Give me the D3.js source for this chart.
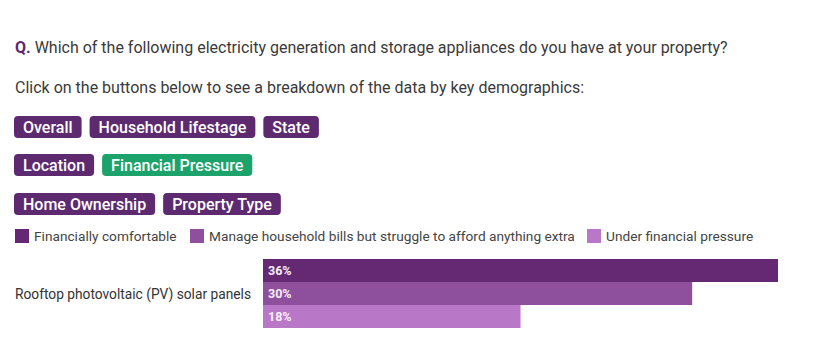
<!DOCTYPE html>
<html><head><meta charset="utf-8">
<script src="https://cdn.jsdelivr.net/npm/d3@7"></script>
<style>
html,body{margin:0;padding:0;background:#fff;}
svg{display:block;font-family:Roboto,"Open Sans",sans-serif;}
</style></head>
<body>
<svg id="chart" width="834" height="347"></svg>
<script>
const questionPrefix = "Q.";
const questionText = " Which of the following electricity generation and storage appliances do you have at your property?";
const instruction = "Click on the buttons below to see a breakdown of the data by key demographics:";
const buttonRows = [
  ["Overall", "Household Lifestage", "State"],
  ["Location", "Financial Pressure"],
  ["Home Ownership", "Property Type"]
];
const activeButton = "Financial Pressure";
const categories = ["Rooftop photovoltaic (PV) solar panels"];
const seriesNames = ["Financially comfortable", "Manage household bills but struggle to afford anything extra", "Under financial pressure"];
const seriesValues = [[36], [30], [18]];
const seriesColors = ["#652973", "#8e509d", "#b977c7"];

const svg = d3.select("#chart");

// Question
const q = svg.append("text").attr("x", 15).attr("y", 53)
  .attr("font-size", 16).attr("fill", "#3a3a3a");
q.append("tspan").attr("font-weight", 700).attr("fill", "#5b2a6e").text(questionPrefix);
q.append("tspan").text(questionText);

svg.append("text").attr("x", 15).attr("y", 93)
  .attr("font-size", 16).attr("fill", "#3a3a3a").text(instruction);

// Buttons
const rowY = [116, 154, 193];
buttonRows.forEach((row, ri) => {
  let x = 14;
  row.forEach(label => {
    const g = svg.append("g").attr("transform", `translate(${x},${rowY[ri]})`);
    const rect = g.append("rect").attr("height", 22).attr("rx", 4)
      .attr("fill", label === activeButton ? "#1ba36b" : "#5d2a70");
    const t = g.append("text").attr("x", 9).attr("y", 16.5)
      .attr("font-size", 16).attr("font-weight", 500).attr("fill", "#fff").text(label);
    const w = t.node().getComputedTextLength() + 18;
    rect.attr("width", w);
    x += w + 8;
  });
});

// Legend
const legendX = [15, 190, 587];
const lg = svg.append("g").attr("transform", "translate(0,229)");
seriesNames.forEach((n, i) => {
  lg.append("rect").attr("x", legendX[i]).attr("y", 0).attr("width", 14).attr("height", 14)
    .attr("fill", seriesColors[i]);
  lg.append("text").attr("x", legendX[i] + 19).attr("y", 12)
    .attr("font-size", 13.7).attr("fill", "#444").text(n);
});

// Bars
const x = d3.scaleLinear().domain([0, 36]).range([263, 778]);
const y0 = d3.scaleBand().domain(categories).range([259, 328]).padding(0);
const y1 = d3.scaleBand().domain(d3.range(seriesNames.length)).range([0, y0.bandwidth()]).padding(0);

categories.forEach((c, ci) => {
  const g = svg.append("g").attr("transform", `translate(0,${y0(c)})`);
  seriesValues.forEach((vals, si) => {
    g.append("rect").attr("x", x(0)).attr("y", y1(si))
      .attr("width", x(vals[ci]) - x(0)).attr("height", y1.bandwidth())
      .attr("fill", seriesColors[si]);
    g.append("text").attr("x", x(0) + 5).attr("y", y1(si) + y1.bandwidth() / 2 + 4.5)
      .attr("font-size", 12.5).attr("font-weight", 700).attr("fill", "#f6eef8")
      .text(vals[ci] + "%");
  });
  svg.append("text").attr("x", 251).attr("y", y0(c) + y0.bandwidth() / 2 + 5)
    .attr("text-anchor", "end").attr("font-size", 13.75).attr("fill", "#333").text(c);
});
</script>
</body></html>
